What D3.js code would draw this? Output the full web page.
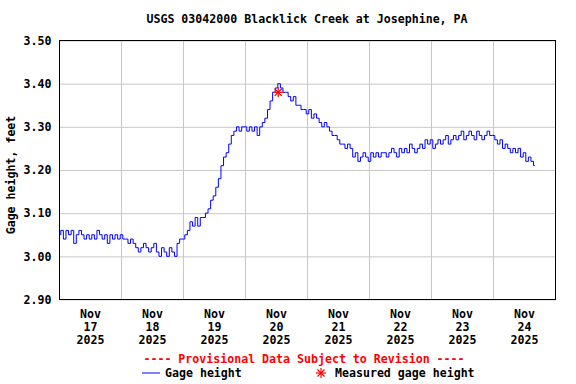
<!DOCTYPE html>
<html>
<head>
<meta charset="utf-8">
<script src="https://cdn.jsdelivr.net/npm/d3@7"></script>
<style>
  body { margin: 0; background: #fff; }
  svg { display: block; }
  text { font-family: "DejaVu Sans Mono", monospace; font-weight: bold; font-size: 11.6px; fill: #000; }
</style>
</head>
<body>
<div id="chart"></div>
<script>
// chart text
const title = "USGS 03042000 Blacklick Creek at Josephine, PA";
const yLabel = "Gage height, feet";
const provisional = "---- Provisional Data Subject to Revision ----";

// axis ranges and ticks
const startTime = "2025-11-17T00:00:00Z";
const endTime = "2025-11-25T00:00:00Z";
const yTicks = [2.90, 3.00, 3.10, 3.20, 3.30, 3.40, 3.50];
const dayLabels = ["17", "18", "19", "20", "21", "22", "23", "24"];

// hourly gage height (ft), one array per day
const nov17 = [3.05, 3.06, 3.04, 3.06, 3.05, 3.06, 3.03, 3.05, 3.06, 3.05, 3.04, 3.05,
               3.04, 3.05, 3.04, 3.06, 3.05, 3.04, 3.05, 3.03, 3.05, 3.04, 3.05, 3.04];
const nov18 = [3.05, 3.04, 3.04, 3.03, 3.04, 3.03, 3.02, 3.01, 3.02, 3.03, 3.02, 3.01,
               3.02, 3.03, 3.01, 3.00, 3.02, 3.01, 3.00, 3.02, 3.01, 3.00, 3.03, 3.04];
const nov19 = [3.04, 3.05, 3.06, 3.08, 3.07, 3.09, 3.07, 3.09, 3.09, 3.10, 3.11, 3.13,
               3.14, 3.16, 3.18, 3.21, 3.23, 3.24, 3.26, 3.28, 3.29, 3.30, 3.29, 3.30];
const nov20 = [3.30, 3.29, 3.30, 3.29, 3.30, 3.28, 3.30, 3.31, 3.32, 3.34, 3.36, 3.38,
               3.39, 3.40, 3.39, 3.38, 3.38, 3.37, 3.36, 3.37, 3.35, 3.35, 3.34, 3.34];
const nov21 = [3.33, 3.34, 3.32, 3.33, 3.32, 3.31, 3.30, 3.31, 3.30, 3.29, 3.28, 3.28,
               3.27, 3.26, 3.26, 3.25, 3.26, 3.25, 3.23, 3.24, 3.22, 3.23, 3.24, 3.23];
const nov22 = [3.22, 3.24, 3.23, 3.24, 3.23, 3.24, 3.24, 3.23, 3.24, 3.25, 3.24, 3.23,
               3.25, 3.24, 3.25, 3.24, 3.26, 3.25, 3.24, 3.25, 3.26, 3.25, 3.27, 3.26];
const nov23 = [3.27, 3.25, 3.26, 3.27, 3.26, 3.27, 3.28, 3.26, 3.27, 3.28, 3.27, 3.28,
               3.29, 3.27, 3.28, 3.29, 3.28, 3.27, 3.29, 3.28, 3.27, 3.28, 3.29, 3.28];
const nov24 = [3.28, 3.27, 3.26, 3.27, 3.25, 3.26, 3.25, 3.24, 3.25, 3.24, 3.25, 3.23,
               3.24, 3.22, 3.23, 3.22, 3.21];

// field measurement
const measuredTimes = ["2025-11-20T12:40:00Z"];
const measuredValues = [3.38];

const config = {
    width: 576,
    height: 384,
    margin: { top: 40, right: 21, bottom: 85, left: 59 }
};
config.plotW = config.width - config.margin.left - config.margin.right;
config.plotH = config.height - config.margin.top - config.margin.bottom;

const t0 = new Date(startTime);
const hourly = [nov17, nov18, nov19, nov20, nov21, nov22, nov23, nov24].flat();
const data = hourly.map((v, i) => ({ time: new Date(t0.getTime() + i * 3600e3), value: v }));
const points = measuredTimes.map((t, i) => ({ time: new Date(t), value: measuredValues[i] }));

const svg = d3.select("#chart")
    .append("svg")
    .attr("width", config.width)
    .attr("height", config.height);

const xScale = d3.scaleUtc()
    .domain([t0, new Date(endTime)])
    .range([0, config.plotW]);

const yScale = d3.scaleLinear()
    .domain([2.90, 3.50])
    .range([config.plotH, 0]);

const g = svg.append("g")
    .attr("transform", `translate(${config.margin.left + 0.5},${config.margin.top + 0.5})`);

// horizontal grid lines + tick labels
const yAxis = g.append("g")
    .call(d3.axisLeft(yScale).tickValues(yTicks).tickSize(-config.plotW).tickPadding(8).tickFormat(d3.format(".2f")));
yAxis.select(".domain").remove();
yAxis.selectAll(".tick line").attr("stroke", "#c8c8c8");
yAxis.selectAll(".tick text").attr("font-family", null).attr("font-size", null);

// vertical grid lines at midnight
const midnights = d3.utcDay.range(t0, new Date(endTime));
g.append("g")
    .selectAll("line")
    .data(midnights.slice(1))
    .join("line")
    .attr("x1", d => Math.round(xScale(d)))
    .attr("x2", d => Math.round(xScale(d)))
    .attr("y1", 0)
    .attr("y2", config.plotH)
    .attr("stroke", "#c8c8c8");

// day labels at noon
const xLabels = g.append("g")
    .selectAll("text")
    .data(midnights)
    .join("text")
    .attr("text-anchor", "middle")
    .attr("transform", d => `translate(${xScale(d3.utcHour.offset(d, 12))},${config.plotH})`);
xLabels.append("tspan").attr("x", 0).attr("y", 18.5).text("Nov");
xLabels.append("tspan").attr("x", 0).attr("y", 31.5).text((d, i) => dayLabels[i]);
xLabels.append("tspan").attr("x", 0).attr("y", 44.5).text("2025");

// the data line
const line = d3.line()
    .x(d => xScale(d.time))
    .y(d => yScale(d.value))
    .curve(d3.curveStep);

g.append("path")
    .datum(data)
    .attr("d", line)
    .style("fill", "none")
    .style("stroke", "#0000ff")
    .style("stroke-width", "1px");

// asterisk marker
const star = (sel, r) => {
    [0, 45, 90, 135].forEach(a => {
        sel.append("line")
            .attr("x1", -r).attr("x2", r).attr("y1", 0).attr("y2", 0)
            .attr("transform", `rotate(${a})`)
            .attr("stroke", "#ff0000")
            .attr("stroke-width", 1.2);
    });
};

g.selectAll(".meas")
    .data(points)
    .join("g")
    .attr("class", "meas")
    .attr("transform", d => `translate(${xScale(d.time)},${yScale(d.value)})`)
    .each(function() { star(d3.select(this), 5); });

// plot frame
g.append("rect")
    .attr("width", config.plotW)
    .attr("height", config.plotH)
    .attr("fill", "none")
    .attr("stroke", "#000");

// title
svg.append("text")
    .attr("x", config.margin.left + config.plotW / 2)
    .attr("y", 23)
    .attr("text-anchor", "middle")
    .text(title);

// y axis label
svg.append("text")
    .attr("text-anchor", "middle")
    .attr("transform", "translate(15,175)rotate(-90)")
    .text(yLabel);

// provisional note
svg.append("text")
    .attr("x", 304)
    .attr("y", 363)
    .attr("text-anchor", "middle")
    .style("fill", "#ff0000")
    .text(provisional);

// legend
const legend = svg.append("g").attr("transform", "translate(0,372.5)");
legend.append("line")
    .attr("x1", 142).attr("x2", 160).attr("y1", 0.5).attr("y2", 0.5)
    .attr("stroke", "#0000ff");
legend.append("text").attr("x", 165).attr("y", 4.5).text("Gage height");
legend.append("g").attr("transform", "translate(321,0.5)").call(s => star(s, 5));
legend.append("text").attr("x", 335).attr("y", 4.5).text("Measured gage height");
</script>
</body>
</html>
